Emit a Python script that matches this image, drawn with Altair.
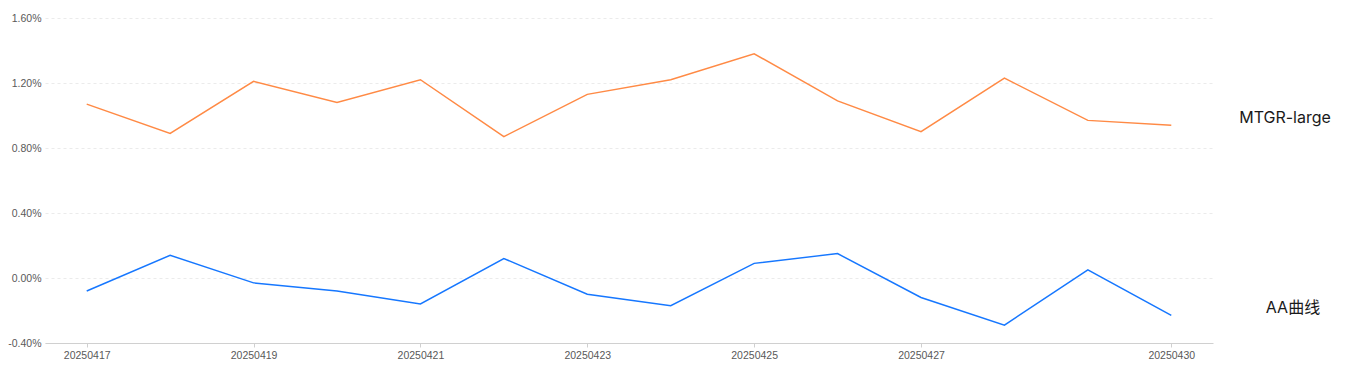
import altair as alt
import pandas as pd

dates = ["20250417", "20250418", "20250419", "20250420", "20250421", "20250422", "20250423",
         "20250424", "20250425", "20250426", "20250427", "20250428", "20250429", "20250430"]
mtgr_large = [1.07, 0.89, 1.21, 1.08, 1.22, 0.87, 1.13, 1.22, 1.38, 1.09, 0.90, 1.23, 0.97, 0.94]
aa_curve = [-0.08, 0.14, -0.03, -0.08, -0.16, 0.12, -0.10, -0.17, 0.09, 0.15, -0.12, -0.29, 0.05, -0.23]
series_names = ["MTGR-large", "AA曲线"]
series_colors = ["#ff8a45", "#1677ff"]
x_label_values = ["20250417", "20250419", "20250421", "20250423", "20250425", "20250427", "20250430"]
y_ticks = [-0.004, 0.0, 0.004, 0.008, 0.012, 0.016]

rows = []
for name, vals in zip(series_names, [mtgr_large, aa_curve]):
    for d, v in zip(dates, vals):
        rows.append({"date": d, "value": v / 100.0, "series": name})
df = pd.DataFrame(rows)

last = pd.DataFrame({
    "series": series_names,
    "value": [mtgr_large[-1] / 100.0, aa_curve[-1] / 100.0],
})

FONT = "Inter, Noto Sans CJK SC, sans-serif"
AXIS_FONT = "Liberation Sans, Arial, sans-serif"
y_scale = alt.Scale(domain=[-0.004, 0.016], nice=False, zero=False)

x_enc = alt.X("date:N", sort=dates,
              scale=alt.Scale(type="point", padding=0.5),
              axis=alt.Axis(title=None, values=x_label_values, labelAngle=0,
                            labelFontSize=10.5, labelColor="#595959", labelFont=AXIS_FONT,
                            domainColor="#d0d0d0", tickColor="#d0d0d0", tickSize=4,
                            labelPadding=3, grid=False))
y_enc = alt.Y("value:Q", scale=y_scale,
              axis=alt.Axis(title=None, values=y_ticks,
                            labelExpr="replace(format(datum.value, '.2%'), '\u2212', '-')",
                            labelFontSize=10.5, labelColor="#595959", labelFont=AXIS_FONT,
                            domain=False, ticks=False, labelPadding=4,
                            grid=True, gridColor="#ebebeb", gridDash=[3, 3]))
color_enc = alt.Color("series:N", scale=alt.Scale(domain=series_names, range=series_colors),
                      legend=None)

lines = alt.Chart(df).mark_line(strokeWidth=1.5).encode(
    x=x_enc, y=y_enc, color=color_enc, detail="series:N"
)

label_top = alt.Chart(last).transform_filter(
    alt.datum.series == series_names[0]
).mark_text(fontSize=16, font=FONT, color="#1a1a1a", align="center", dy=-7).encode(
    x=alt.value(1240), y=alt.Y("value:Q", scale=y_scale), text="series:N"
)
label_bottom = alt.Chart(last).transform_filter(
    alt.datum.series == series_names[1]
).mark_text(fontSize=16, font=FONT, color="#1a1a1a", align="center", dy=-7.5).encode(
    x=alt.value(1248), y=alt.Y("value:Q", scale=y_scale), text="series:N"
)

chart = alt.layer(lines, label_top, label_bottom).properties(
    width=1168, height=325,
    autosize=alt.AutoSizeParams(type="none"),
    padding={"left": 37, "top": 10, "right": 129, "bottom": 19},
).configure_view(stroke=None)

chart.save("out.html", embed_options={"renderer": "svg", "actions": False})
